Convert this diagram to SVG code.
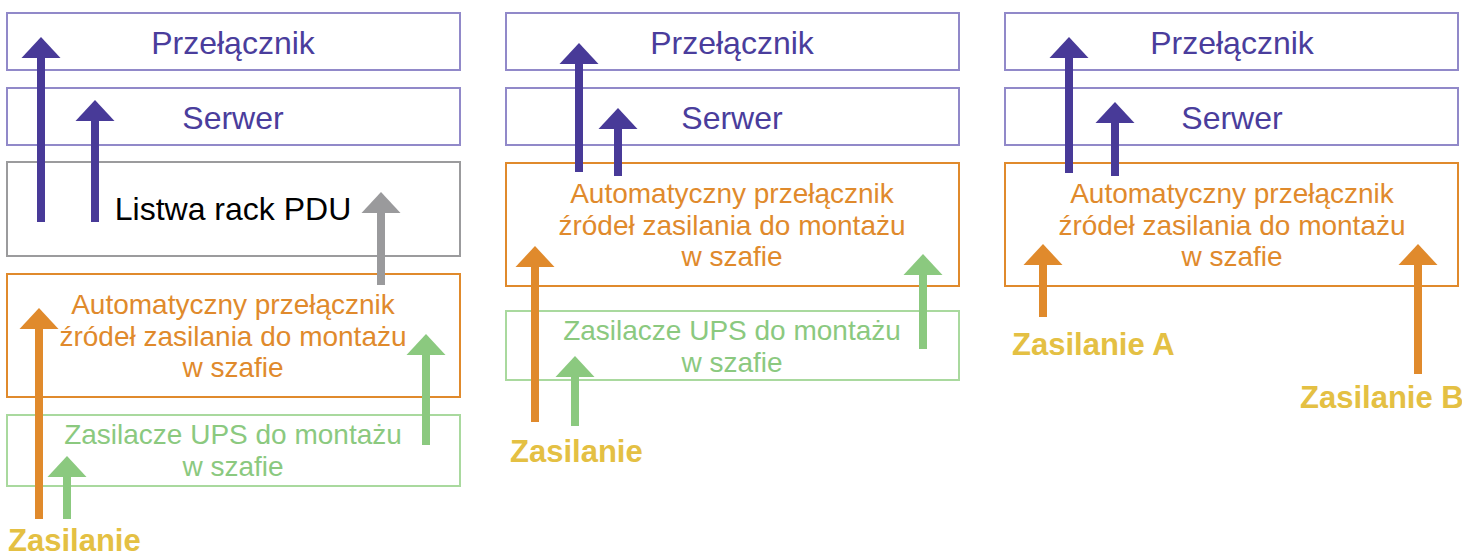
<svg xmlns="http://www.w3.org/2000/svg" width="1462" height="558" viewBox="0 0 1462 558">
  <defs>
    <style>
      .box { fill: #ffffff; stroke-width: 2; }
      .bp { stroke: #9189c9; }
      .bg { stroke: #9b9b9d; }
      .bo { stroke: #e08a2c; }
      .bl { stroke: #a9d99e; }
      text { font-family: "Liberation Sans", Arial, sans-serif; text-anchor: middle; }
      .tp { fill: #4a3d9c; font-size: 32px; }
      .tk { fill: #000000; font-size: 32px; }
      .to { fill: #e08a2c; font-size: 28px; }
      .tg { fill: #8bc97f; font-size: 28px; }
      .tz { fill: #e4c043; font-size: 31px; font-weight: bold; text-anchor: start; }
      .a { stroke-width: 8; fill: none; }
      .ap { stroke: #483a98; }
      .ag { stroke: #9a9a9c; }
      .ao { stroke: #e08a2c; }
      .al { stroke: #8bc97f; }
    </style>
    <marker id="hp" markerUnits="userSpaceOnUse" viewBox="0 -20 21 40" markerWidth="21" markerHeight="40" refX="0" refY="0" orient="auto"><path d="M0,-19.5 L21,0 L0,19.5 Z" fill="#483a98"/></marker>
    <marker id="hg" markerUnits="userSpaceOnUse" viewBox="0 -20 21 40" markerWidth="21" markerHeight="40" refX="0" refY="0" orient="auto"><path d="M0,-19.5 L21,0 L0,19.5 Z" fill="#9a9a9c"/></marker>
    <marker id="ho" markerUnits="userSpaceOnUse" viewBox="0 -20 21 40" markerWidth="21" markerHeight="40" refX="0" refY="0" orient="auto"><path d="M0,-19.5 L21,0 L0,19.5 Z" fill="#e08a2c"/></marker>
    <marker id="hl" markerUnits="userSpaceOnUse" viewBox="0 -20 21 40" markerWidth="21" markerHeight="40" refX="0" refY="0" orient="auto"><path d="M0,-19.5 L21,0 L0,19.5 Z" fill="#8bc97f"/></marker>
  </defs>
  <rect width="1462" height="558" fill="#ffffff"/>

  <!-- Left panel -->
  <g id="l-switch"><rect class="box bp" x="7" y="13" width="453" height="57"/><text class="tp" x="233" y="54">Przełącznik</text></g>
  <g id="l-server"><rect class="box bp" x="7" y="88" width="453" height="57"/><text class="tp" x="233" y="129">Serwer</text></g>
  <g id="l-pdu"><rect class="box bg" x="7" y="162" width="453" height="94"/><text class="tk" x="233" y="220">Listwa rack PDU</text></g>
  <g id="l-ats"><rect class="box bo" x="7" y="274" width="453" height="123"/>
    <text class="to" x="233" y="314">Automatyczny przełącznik</text>
    <text class="to" x="233" y="346">źródeł zasilania do montażu</text>
    <text class="to" x="233" y="377">w szafie</text></g>
  <g id="l-ups"><rect class="box bl" x="7" y="415" width="453" height="71"/>
    <text class="tg" x="233" y="444">Zasilacze UPS do montażu</text>
    <text class="tg" x="233" y="476">w szafie</text></g>
  <g id="l-power"><text class="tz" x="8" y="551">Zasilanie</text></g>

  <!-- Middle panel -->
  <g id="m-switch"><rect class="box bp" x="506" y="13" width="453" height="57"/><text class="tp" x="732" y="54">Przełącznik</text></g>
  <g id="m-server"><rect class="box bp" x="506" y="88" width="453" height="57"/><text class="tp" x="732" y="129">Serwer</text></g>
  <g id="m-ats"><rect class="box bo" x="506" y="163" width="453" height="123"/>
    <text class="to" x="732" y="203">Automatyczny przełącznik</text>
    <text class="to" x="732" y="235">źródeł zasilania do montażu</text>
    <text class="to" x="732" y="266">w szafie</text></g>
  <g id="m-ups"><rect class="box bl" x="506" y="311" width="453" height="69"/>
    <text class="tg" x="732" y="340">Zasilacze UPS do montażu</text>
    <text class="tg" x="732" y="372">w szafie</text></g>
  <g id="m-power"><text class="tz" x="510" y="462">Zasilanie</text></g>

  <!-- Right panel -->
  <g id="r-switch"><rect class="box bp" x="1005" y="13" width="453" height="57"/><text class="tp" x="1232" y="54">Przełącznik</text></g>
  <g id="r-server"><rect class="box bp" x="1005" y="88" width="453" height="57"/><text class="tp" x="1232" y="129">Serwer</text></g>
  <g id="r-ats"><rect class="box bo" x="1005" y="163" width="453" height="123"/>
    <text class="to" x="1232" y="203">Automatyczny przełącznik</text>
    <text class="to" x="1232" y="235">źródeł zasilania do montażu</text>
    <text class="to" x="1232" y="266">w szafie</text></g>
  <g id="r-power-a"><text class="tz" x="1012" y="355">Zasilanie A</text></g>
  <g id="r-power-b"><text class="tz" x="1300" y="408">Zasilanie B</text></g>

  <g id="connectors">
    <line class="a ap" x1="41" y1="222" x2="41" y2="58" marker-end="url(#hp)"/>
    <line class="a ap" x1="95" y1="222" x2="95" y2="121" marker-end="url(#hp)"/>
    <line class="a ag" x1="381" y1="285" x2="381" y2="213" marker-end="url(#hg)"/>
    <line class="a ao" x1="39" y1="519" x2="39" y2="329" marker-end="url(#ho)"/>
    <line class="a al" x1="67" y1="519" x2="67" y2="477" marker-end="url(#hl)"/>
    <line class="a al" x1="426" y1="445" x2="426" y2="355" marker-end="url(#hl)"/>

    <line class="a ap" x1="579" y1="172" x2="579" y2="64" marker-end="url(#hp)"/>
    <line class="a ap" x1="618" y1="176" x2="618" y2="129" marker-end="url(#hp)"/>
    <line class="a ao" x1="535" y1="422" x2="535" y2="267" marker-end="url(#ho)"/>
    <line class="a al" x1="575" y1="426" x2="575" y2="377" marker-end="url(#hl)"/>
    <line class="a al" x1="923" y1="349" x2="923" y2="275" marker-end="url(#hl)"/>

    <line class="a ap" x1="1069" y1="173" x2="1069" y2="58" marker-end="url(#hp)"/>
    <line class="a ap" x1="1115" y1="176" x2="1115" y2="123" marker-end="url(#hp)"/>
    <line class="a ao" x1="1043" y1="317" x2="1043" y2="265" marker-end="url(#ho)"/>
    <line class="a ao" x1="1418" y1="374" x2="1418" y2="265" marker-end="url(#ho)"/>
  </g>
</svg>
